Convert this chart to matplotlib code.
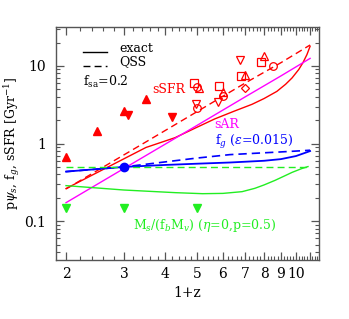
import numpy as np
import matplotlib
matplotlib.use('Agg')
import matplotlib.pyplot as plt
from matplotlib.ticker import FixedLocator, NullFormatter, FixedFormatter

plt.rcParams['font.family'] = 'DejaVu Serif'
plt.rcParams['mathtext.fontset'] = 'dejavuserif'

# sSFR, exact
ssfr_z = [2.0, 3.5, 4.29, 5.0, 5.67, 6.5, 7.35, 8.0, 8.75, 9.3, 9.73, 10.2, 10.5, 10.8, 11.04]
ssfr_exact = [0.263, 0.89, 1.19, 1.62, 2.08, 2.62, 3.2, 3.8, 4.7, 5.8, 7.0, 9.0, 11.0, 14.0, 17.9]
# sSFR, QSS
ssfr_qss_z = [2.0, 3.5, 5.0, 7.0, 9.0, 11.04]
ssfr_qss = [0.26, 1.05, 2.57, 6.0, 11.0, 18.6]
# sAR
sar_z = [2.0, 3.0, 5.0, 7.0, 9.0, 11.04]
sar = [0.173, 0.477, 1.71, 3.98, 7.43, 12.5]
# gas fraction f_g
fg_z = [2.0, 3.0, 4.0, 5.0, 6.3, 8.0, 9.0, 10.0, 11.04]
fg_exact = [0.435, 0.50, 0.53, 0.55, 0.57, 0.60, 0.63, 0.69, 0.80]
fg_qss = [0.435, 0.50, 0.58, 0.65, 0.72, 0.76, 0.78, 0.80, 0.82]
# stellar fraction
ms_z = [2.0, 3.0, 4.3, 5.2, 6.0, 6.86, 7.5, 8.0, 8.63, 9.2, 9.73, 10.4, 10.88]
ms_exact = [0.287, 0.252, 0.233, 0.226, 0.228, 0.24, 0.265, 0.293, 0.335, 0.38, 0.425, 0.475, 0.505]
ms_qss_z = [2.0, 11.04]
ms_qss = [0.5, 0.5]

# observed sSFR (open symbols)
obs_sq_z = [4.90, 5.83, 6.83, 7.83]
obs_sq = [5.95, 5.44, 7.32, 11.4]
obs_ci_z = [5.0, 5.0, 6.0, 8.5]
obs_ci = [5.28, 2.83, 4.04, 10.1]
obs_up_z = [5.07, 6.0, 7.0, 8.0]
obs_up = [5.12, 4.55, 7.54, 13.3]
obs_dn_z = [4.97, 5.79, 6.76]
obs_dn = [3.28, 3.38, 12.1]
obs_di_z = [7.0]
obs_di = [5.12]
# filled symbols
fill_up_z = [2.0, 2.48, 3.0, 3.5]
fill_up = [0.68, 1.47, 2.59, 3.70]
fill_dn_z = [3.08, 4.2]
fill_dn = [2.30, 2.17]
green_dn_z = [2.0, 3.0, 5.0]
green_dn = [0.15, 0.15, 0.15]
fg_pt_z = [3.0]
fg_pt = [0.5]

red = '#ff0000'
mag = '#ff00ff'
blue = '#0000ff'
green = '#22ee22'

fig = plt.figure(figsize=(3.49, 3.19), dpi=100)
ax = fig.add_axes([0.1605, 0.185, 0.7535, 0.730])

ax.plot(ssfr_z, ssfr_exact, color=red, lw=1.0)
ax.plot(ssfr_qss_z, ssfr_qss, color=red, lw=1.0, ls=(0, (5, 3)))
ax.plot(sar_z, sar, color=mag, lw=1.0)
ax.plot(fg_z, fg_exact, color=blue, lw=1.3)
ax.plot(fg_z, fg_qss, color=blue, lw=1.2, ls=(0, (5, 3)))
ax.plot(ms_z, ms_exact, color=green, lw=1.0)
ax.plot(ms_qss_z, ms_qss, color=green, lw=1.0, ls=(0, (5, 3)))

mk = dict(ls='none', mfc='none', mec=red, mew=0.9, ms=5.5)
ax.plot(obs_sq_z, obs_sq, marker='s', **mk)
ax.plot(obs_ci_z, obs_ci, marker='o', **mk)
ax.plot(obs_up_z, obs_up, marker='^', **mk)
ax.plot(obs_dn_z, obs_dn, marker='v', **mk)
ax.plot(obs_di_z, obs_di, marker='D', ls='none', mfc='none', mec=red, mew=0.9, ms=4.5)

ax.plot(fill_up_z, fill_up, marker='^', ls='none', color=red, ms=5.5)
ax.plot(fill_dn_z, fill_dn, marker='v', ls='none', color=red, ms=5.5)
ax.plot(green_dn_z, green_dn, marker='v', ls='none', color=green, ms=5.5)
ax.plot(fg_pt_z, fg_pt, marker='o', ls='none', color=blue, ms=6)

ax.set_xscale('log')
ax.set_yscale('log')
ax.set_xlim(1.865, 11.75)
ax.set_ylim(10**-1.5, 10**1.5)

xmaj = [2, 3, 4, 5, 6, 7, 8, 9, 10, 11]
ax.xaxis.set_major_locator(FixedLocator(xmaj))
ax.xaxis.set_major_formatter(FixedFormatter(['2', '3', '4', '5', '6', '7', '8', '9', '10', '']))
ax.xaxis.set_minor_locator(FixedLocator(np.arange(2.0, 11.8, 0.2)))
ax.xaxis.set_minor_formatter(NullFormatter())
ax.yaxis.set_major_locator(FixedLocator([0.1, 1, 10]))
ax.yaxis.set_major_formatter(FixedFormatter(['0.1', '1', '10']))
ymin = [m * 10.0**e for e in (-2, -1, 0, 1) for m in range(2, 10)]
ax.yaxis.set_minor_locator(FixedLocator(ymin))
ax.yaxis.set_minor_formatter(NullFormatter())

ax.tick_params(which='both', direction='in', top=True, right=True, color='#555555')
ax.tick_params(which='major', length=6, width=0.9, labelsize=10)
ax.tick_params(axis='x', which='major', pad=5)
ax.tick_params(axis='y', which='major', pad=7)
ax.tick_params(which='minor', length=3, width=0.8)
for s in ax.spines.values():
    s.set_color('#555555')
    s.set_linewidth(1.0)

ax.set_xlabel('1+z', fontsize=10, labelpad=4)
ax.set_ylabel(r'p$\psi_s$, f$_g$, sSFR [Gyr$^{-1}$]', fontsize=9, labelpad=2)

tr = ax.transAxes
ax.plot([0.103, 0.194], [0.893, 0.893], color='k', lw=1.0, transform=tr)
ax.plot([0.103, 0.194], [0.835, 0.835], color='k', lw=1.0, ls=(0, (5, 3)), transform=tr)
ax.text(0.24, 0.91, 'exact', fontsize=9, va='center', transform=tr)
ax.text(0.24, 0.85, 'QSS', fontsize=9, va='center', transform=tr)
ax.text(0.103, 0.764, r'f$_{\rm sa}$=0.2', fontsize=9, va='center', transform=tr)
ax.text(0.365, 0.73, 'sSFR', fontsize=9, color=red, va='center', transform=tr)
ax.text(0.60, 0.58, 'sAR', fontsize=9, color=mag, va='center', transform=tr)
ax.text(0.605, 0.506, r'f$_g$ ($\epsilon$=0.015)', fontsize=9, color=blue, va='center', transform=tr)
ax.text(0.293, 0.146, r'M$_s$/(f$_b$M$_v$) ($\eta$=0,p=0.5)', fontsize=9, color=green,
        va='center', transform=tr)

fig.savefig('out.png', dpi=100)
